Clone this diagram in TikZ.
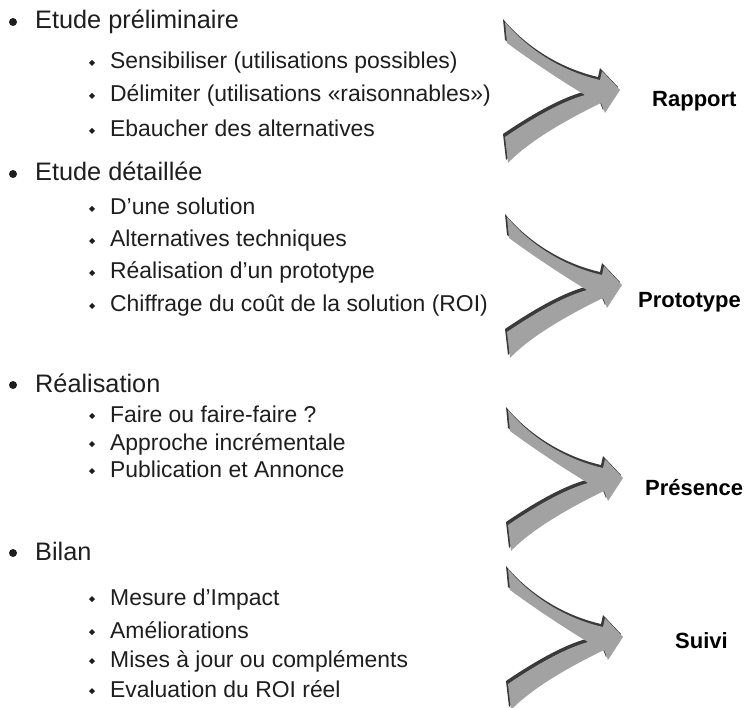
\documentclass[tikz,border=0pt]{standalone}
\usepackage{fontspec}
\setmainfont{Liberation Sans}
\definecolor{txt}{HTML}{1E1E1E}
\definecolor{arrowfill}{HTML}{A2A2A2}
\definecolor{arrowshadow}{HTML}{3A3A3A}
\tikzset{
  mainitem/.style={anchor=base west, inner sep=0pt, font=\fontsize{25.3}{30}\selectfont, text=txt},
  subitem/.style={anchor=base west, inner sep=0pt, font=\fontsize{22.9}{27}\selectfont, text=txt},
  result/.style={anchor=base west, inner sep=0pt, font=\fontsize{22}{26}\selectfont\bfseries, text=black},
  fatarrow/.pic={
    \begin{scope}[shift={(-2,-3)}]
      \fill[arrowshadow] (-115,-68) .. controls (-90,-38) and (-55,-18) .. (-20,-10) -- (-18,-19) -- (0,0) -- (-15,23) -- (-19,13)
        .. controls (-50,28) and (-90,50) .. (-112,73) -- (-115,47)
        .. controls (-90,30) and (-60,12) .. (-35,5)
        .. controls (-60,-10) and (-90,-30) .. (-113,-47) -- cycle;
    \end{scope}
    \fill[arrowfill] (-115,-68) .. controls (-90,-38) and (-55,-18) .. (-20,-10) -- (-18,-19) -- (0,0) -- (-15,23) -- (-19,13)
        .. controls (-50,28) and (-90,50) .. (-112,73) -- (-115,47)
        .. controls (-90,30) and (-60,12) .. (-35,5)
        .. controls (-60,-10) and (-90,-30) .. (-113,-47) -- cycle;
  },
  bigdot/.style={fill=txt},
  smalldot/.style={fill=txt}
}
\newcommand{\mydot}[1]{\fill[bigdot] (13,#1) circle (4pt);}
\newcommand{\mydiam}[1]{\fill[smalldot] (92,#1) +(-3,0) -- +(0,-3) -- +(3,0) -- +(0,3) -- cycle;}
\begin{document}
\begin{tikzpicture}[x=1pt,y=-1pt]
\useasboundingbox (0,0) rectangle (749,708);

% group 1
\mydot{22}
\node[mainitem] (g1) at (35,28.5) {Etude préliminaire};
\mydiam{63}\node[subitem] (g1a) at (110,69) {Sensibiliser (utilisations possibles)};
\mydiam{96}\node[subitem] (g1b) at (110,102) {Délimiter (utilisations «raisonnables»)};
\mydiam{131}\node[subitem] (g1c) at (110,137) {Ebaucher des alternatives};

% group 2
\mydot{174}
\node[mainitem] (g2) at (35,181) {Etude détaillée};
\mydiam{209}\node[subitem] (g2a) at (110,215) {D’une solution};
\mydiam{241}\node[subitem] (g2b) at (110,247) {Alternatives techniques};
\mydiam{273}\node[subitem] (g2c) at (110,279) {Réalisation d’un prototype};
\mydiam{306}\node[subitem] (g2d) at (110,312) {Chiffrage du coût de la solution (ROI)};

% group 3
\mydot{385}
\node[mainitem] (g3) at (35,392) {Réalisation};
\mydiam{416}\node[subitem] (g3a) at (110,422) {Faire ou faire-faire ?};
\mydiam{444}\node[subitem] (g3b) at (110,450) {Approche incrémentale};
\mydiam{471}\node[subitem] (g3c) at (110,477) {Publication et Annonce};

% group 4
\mydot{553}
\node[mainitem] (g4) at (35,560) {Bilan};
\mydiam{599}\node[subitem] (g4a) at (110,605) {Mesure d’Impact};
\mydiam{632}\node[subitem] (g4b) at (110,638) {Améliorations};
\mydiam{661}\node[subitem] (g4c) at (110,667) {Mises à jour ou compléments};
\mydiam{691}\node[subitem] (g4d) at (110,697) {Evaluation du ROI réel};

% arrows
\pic at (620,90) {fatarrow};
\pic at (622,285) {fatarrow};
\pic at (623,478) {fatarrow};
\pic at (623,637) {fatarrow};

% results
\node[result] (r1) at (652,107) {Rapport};
\node[result] (r2) at (638,308) {Prototype};
\node[result] (r3) at (645,495) {Présence};
\node[result] (r4) at (675,648) {Suivi};
\end{tikzpicture}
\end{document}
